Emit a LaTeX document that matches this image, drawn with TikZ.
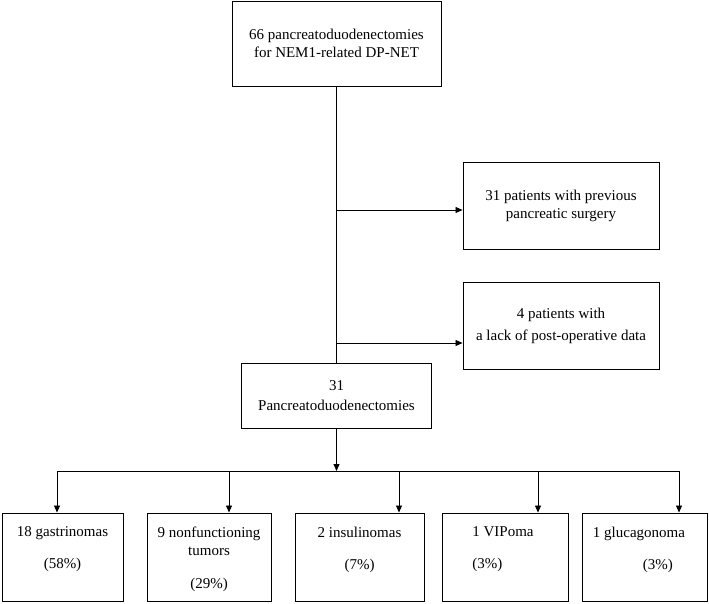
\documentclass[tikz,border=0pt]{standalone}
\usepackage{fontspec}
\setmainfont{Liberation Serif}
\usetikzlibrary{arrows.meta,positioning}

\begin{document}
\begin{tikzpicture}[x=1pt,y=-1pt,
    box/.style={draw, line width=0.9pt, align=center, inner sep=0pt,
      font=\fontsize{15}{18}\selectfont},
    txt/.style={align=center, inner sep=0pt, font=\fontsize{15}{18}\selectfont},
    >={Triangle[length=7pt,width=6pt]}, line width=0.8pt]

  \useasboundingbox (0,0) rectangle (709,603);

  \node[box,minimum width=209pt,minimum height=85pt] (total) at (336.5,43.5) {66 pancreatoduodenectomies\\for NEM1-related DP-NET};
  \node[box,minimum width=196pt,minimum height=87pt] (surgery) at (561,205.5) {31 patients with previous\\pancreatic surgery};
  \node[box,minimum width=196pt,minimum height=87pt] (nodata) at (561,325.5) {4 patients with\\[4pt]a lack of post-operative data};
  \node[box,minimum width=190pt,minimum height=65pt] (pd) at (336.5,395.5) {31\\[2pt]Pancreatoduodenectomies};

  % tumour types
  \node[box,minimum width=121pt,minimum height=88pt] (gastr) at (62.5,557) {};
  \node[box,minimum width=124pt,minimum height=88pt] (nonf) at (209,557) {};
  \node[box,minimum width=129pt,minimum height=88pt] (insul) at (359.5,557) {};
  \node[box,minimum width=126pt,minimum height=88pt] (vip) at (505,557) {};
  \node[box,minimum width=125pt,minimum height=88pt] (gluc) at (644.5,557) {};

  \node[txt,anchor=north] (gastrt) at ([yshift=-14pt]gastr.north) {18 gastrinomas\\[14pt](58\%)};
  \node[txt,anchor=north] (nonft) at ([yshift=-14pt]nonf.north) {9 nonfunctioning\\tumors\\[15pt](29\%)};
  \node[txt,anchor=north] (insult) at ([yshift=-14pt]insul.north) {2 insulinomas\\[14pt](7\%)};
  \node[txt,anchor=north,align=left] (vipt) at ([xshift=-2pt,yshift=-14pt]vip.north) {1 VIPoma\\[14pt](3\%)};
  \node[txt,anchor=north,align=left] (muct) at ([xshift=-5.5pt,yshift=-14pt]gluc.north) {1 glucagonoma\\[14pt]\hspace*{50pt}(3\%)};

  % connectors
  \coordinate (br1) at (336.5,210);
  \coordinate (br2) at (336.5,343);
  \coordinate (fork) at (336.5,471);
  \coordinate (forkl) at (57,471);
  \coordinate (forkr) at (679,471);

  \draw (total.south) -- (pd.north);
  \draw[->] (br1) -- (br1 -| surgery.west);
  \draw[->] (br2) -- (br2 -| nodata.west);
  \draw[->] (pd.south) -- (fork);
  \draw (forkl) -- (forkr);

  \foreach \x/\n in {57/gastr,229/nonf,399/insul,538/vip,679/gluc}{
    \coordinate (d\n) at (\x,471);
    \draw[->] (d\n) -- (d\n |- \n.north);
  }

\end{tikzpicture}
\end{document}
